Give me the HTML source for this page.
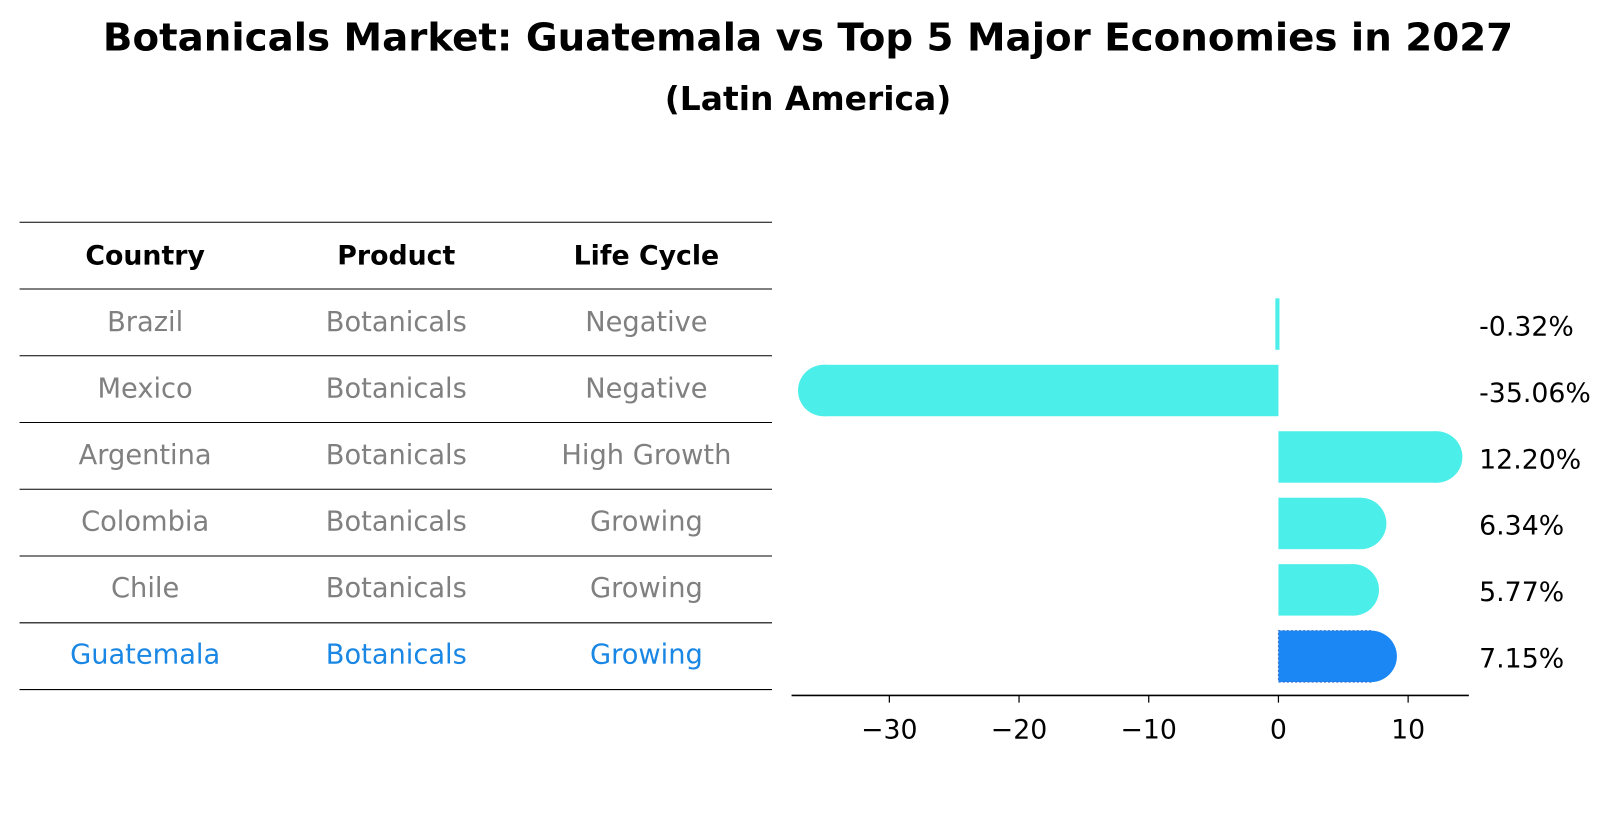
<!DOCTYPE html>
<html><head><meta charset="utf-8"><style>
html,body{margin:0;padding:0;background:#fff;width:1614px;height:823px;overflow:hidden}
svg{display:block;font-family:"DejaVu Sans","Liberation Sans",sans-serif}
</style></head><body>
<svg id="chart" width="1614" height="823" viewBox="0 0 1568 800" preserveAspectRatio="none" xmlns="http://www.w3.org/2000/svg">
<rect width="1568" height="800" fill="#fff"/>
<text x="785" y="49" text-anchor="middle" font-size="37" font-weight="bold" textLength="1370" lengthAdjust="spacingAndGlyphs">Botanicals Market: Guatemala vs Top 5 Major Economies in 2027</text>
<text x="785" y="107" text-anchor="middle" font-size="32" font-weight="bold">(Latin America)</text>
<g id="table"></g>
<g id="bars"></g>
</svg>
<script>
const countries = ["Brazil","Mexico","Argentina","Colombia","Chile","Guatemala"];
const products = ["Botanicals","Botanicals","Botanicals","Botanicals","Botanicals","Botanicals"];
const lifeCycles = ["Negative","Negative","High Growth","Growing","Growing","Growing"];
const growthValues = [-0.32,-35.06,12.20,6.34,5.77,7.15];
const tickValues = [-30,-20,-10,0,10];

const NS="http://www.w3.org/2000/svg";
function mk(tag,attrs,parent,text){const e=document.createElementNS(NS,tag);for(const k in attrs)e.setAttribute(k,attrs[k]);if(text!==undefined)e.textContent=text;parent.appendChild(e);return e;}
const table=document.getElementById('table');
const bars=document.getElementById('bars');
const colX=[141,385,628];
const rowY=i=>313+i*64.6;
const headers=["Country","Product","Life Cycle"];
for(let i=0;i<8;i++){
  const y=216+i*64.9;
  const l=mk('line',{x1:19,x2:750,y1:y,y2:y,stroke:'#000','stroke-width':1},table);
  
  
}
headers.forEach((h,j)=>{
  const t=mk('text',{x:colX[j],y:257,'text-anchor':'middle','font-size':26,'font-weight':'bold'},table,h);
  
  
});
countries.forEach((c,i)=>{
  const col=c==="Guatemala"?'#1a87e5':'#808080';
  [c,products[i],lifeCycles[i]].forEach((v,j)=>{
    const t=mk('text',{x:colX[j],y:rowY(i)+9,'text-anchor':'middle','font-size':26.5,fill:col},table,v);
    
    
  });
});
const x0=1242, ppu=12.6;
const xs=v=>x0+v*ppu;
const ax=mk('line',{x1:769,x2:1427,y1:676,y2:676,stroke:'#000','stroke-width':1.6},bars);


tickValues.forEach(v=>{
  const tk=mk('line',{x1:xs(v),x2:xs(v),y1:676,y2:683,stroke:'#000','stroke-width':1.2},bars);
  
  
  const lb=mk('text',{x:xs(v),y:718,'text-anchor':'middle','font-size':26},bars,(v<0?'\u2212':'')+Math.abs(v));
  
  
});
growthValues.forEach((v,i)=>{
  const cy=rowY(i)+2, h=50, r=25;
  const isG=countries[i]==="Guatemala";
  const fill=isG?'#1a87f5':'#4beee8';
  const g=mk('g',{},bars);
  
  
  const xv=xs(v);
  if(Math.abs(v)<1){
    mk('rect',{x:x0-3,y:cy-h/2,width:4,height:h,fill:fill},g);
  } else {
    const a=Math.min(xv,x0), b=Math.max(xv,x0);
    mk('rect',{x:a,y:cy-h/2,width:b-a,height:h,fill:fill,stroke:isG?'#3a6fd0':'none','stroke-dasharray':isG?'2,2':'none','stroke-width':1},g);
    mk('circle',{cx:xv,cy:cy,r:r,fill:fill},g);
  }
  const lb=mk('text',{x:1437,y:cy+11,'font-size':26},bars,v.toFixed(2)+'%');
  
  
});
</script>
</body></html>
